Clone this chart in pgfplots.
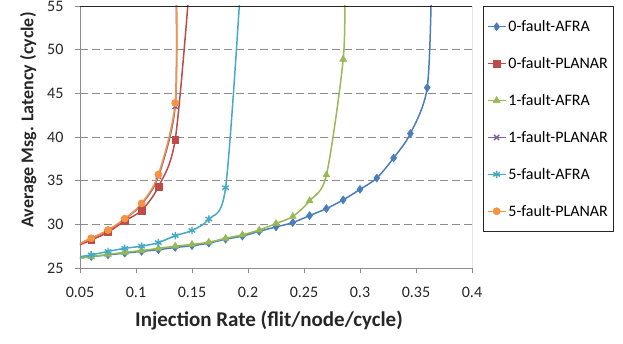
\documentclass[border=0pt]{standalone}
\usepackage{pgfplots}
\pgfplotsset{compat=1.18}
\usepackage{fontspec}
\setmainfont{Carlito}
\definecolor{cBlue}{HTML}{4A7EBB}
\definecolor{cRed}{HTML}{BE4B48}
\definecolor{cGreen}{HTML}{98B954}
\definecolor{cPurple}{HTML}{7D60A0}
\definecolor{cCyan}{HTML}{46AAC5}
\definecolor{cOrange}{HTML}{F69240}
\definecolor{gridgray}{HTML}{8C8C8C}
\begin{document}
\begin{tikzpicture}
\begin{axis}[
  at={(0pt,0pt)}, anchor=south west,
  scale only axis, width=392pt, height=262pt,
  xmin=0.05, xmax=0.4, ymin=25, ymax=55,
  xtick={0.05,0.1,0.15,0.2,0.25,0.3,0.35,0.4},
  xticklabels={0.05,0.1,0.15,0.2,0.25,0.3,0.35,0.4},
  ytick={25,30,35,40,45,50,55},
  /pgf/number format/assume math mode=true,
  axis x line*=bottom, axis y line*=left,
  axis line style={gridgray, line width=0.8pt},
  tick align=outside, major tick length=5pt,
  tick style={gridgray, line width=0.8pt},
  ymajorgrids,
  grid style={gridgray, line width=0.9pt, dash pattern=on 8pt off 4pt},
  tick label style={font=\fontsize{16}{18}\selectfont, text=black!85},
  xticklabel style={yshift=-11pt},
  yticklabel style={xshift=-8pt},
  xlabel={\textbf{Injection Rate (flit/node/cycle)}},
  ylabel={\textbf{Average Msg. Latency (cycle)}},
  xlabel style={font=\fontsize{21}{24}\selectfont, text=black!85, at={(axis description cs:0.5,0)}, anchor=base, yshift=-59pt, xshift=-7pt},
  ylabel style={font=\fontsize{18}{21}\selectfont, text=black!85, at={(axis description cs:0,0.565)}, anchor=base, yshift=46.5pt},
  legend style={at={(rel axis cs:1,1)}, anchor=north west, xshift=10.5pt,
    draw=black!85, line width=0.8pt, font=\fontsize{16}{18}\selectfont,
    row sep=20.3pt, inner xsep=4pt, inner ysep=12pt, cells={anchor=west}},
  legend image code/.code={\draw[mark repeat=2,mark phase=2,line width=1.5pt] plot coordinates {(0pt,0pt) (9pt,0pt) (18pt,0pt)};},
]
\addplot[cBlue, smooth, tension=0.5, line width=1.5pt, mark=diamond*, mark size=4pt, mark options={solid, fill=cBlue, draw=cBlue, line width=0.5pt}] coordinates {
(0.045,26.1) (0.06,26.3) (0.075,26.5) (0.09,26.7) (0.105,26.9) (0.12,27.1) (0.135,27.35)
(0.15,27.55) (0.165,27.85) (0.18,28.3) (0.195,28.65) (0.21,29.2) (0.225,29.7) (0.24,30.2)
(0.255,31.0) (0.27,31.8) (0.285,32.8) (0.3,34.0) (0.315,35.3) (0.33,37.6) (0.345,40.4)
(0.36,45.65) (0.3637,57)};
\addlegendentry{0-fault-AFRA}
\addplot[cRed, smooth, tension=0.5, line width=1.5pt, mark=square*, mark size=3.4pt, mark options={solid, fill=cRed, draw=cRed, line width=0.5pt}] coordinates {
(0.045,27.4) (0.06,28.2) (0.075,29.1) (0.09,30.4) (0.105,31.6) (0.12,34.3) (0.135,39.7) (0.1475,57)};
\addlegendentry{0-fault-PLANAR}
\addplot[cGreen, smooth, tension=0.5, line width=1.5pt, mark=triangle*, mark size=4pt, mark options={solid, fill=cGreen, draw=cGreen, line width=0.5pt}] coordinates {
(0.045,26.0) (0.06,26.3) (0.075,26.55) (0.09,26.8) (0.105,27.0) (0.12,27.25) (0.135,27.5)
(0.15,27.7) (0.165,27.95) (0.18,28.4) (0.195,28.8) (0.21,29.35) (0.225,30.1) (0.24,30.9)
(0.255,32.7) (0.27,35.65) (0.285,48.9) (0.2862,57)};
\addlegendentry{1-fault-AFRA}
\addplot[cPurple, smooth, tension=0.5, line width=1.5pt, mark=x, mark size=3.6pt, mark options={solid, line width=1.4pt}] coordinates {
(0.045,27.5) (0.06,28.4) (0.075,29.3) (0.09,30.6) (0.105,32.3) (0.12,35.5) (0.135,43.5) (0.1358,57)};
\addlegendentry{1-fault-PLANAR}
\addplot[cCyan, smooth, tension=0.5, line width=1.5pt, mark=asterisk, mark size=3.8pt, mark options={solid, line width=1.4pt}] coordinates {
(0.045,26.2) (0.06,26.5) (0.075,26.9) (0.09,27.25) (0.105,27.5) (0.12,27.9) (0.135,28.7)
(0.15,29.3) (0.165,30.6) (0.18,34.2) (0.1932,57)};
\addlegendentry{5-fault-AFRA}
\addplot[cOrange, smooth, tension=0.5, line width=1.5pt, mark=*, mark size=3.6pt, mark options={solid, fill=cOrange, draw=cOrange, line width=0.5pt}] coordinates {
(0.045,27.5) (0.06,28.4) (0.075,29.35) (0.09,30.65) (0.105,32.4) (0.12,35.7) (0.135,43.9) (0.1362,57)};
\addlegendentry{5-fault-PLANAR}
\draw[black!85, line width=0.8pt] (rel axis cs:0,1) -- (rel axis cs:1,1) -- (rel axis cs:1,0);
\end{axis}
\pgfresetboundingbox
\path[use as bounding box] (-80pt,-76pt) rectangle (543pt,268pt);
\end{tikzpicture}
\end{document}
